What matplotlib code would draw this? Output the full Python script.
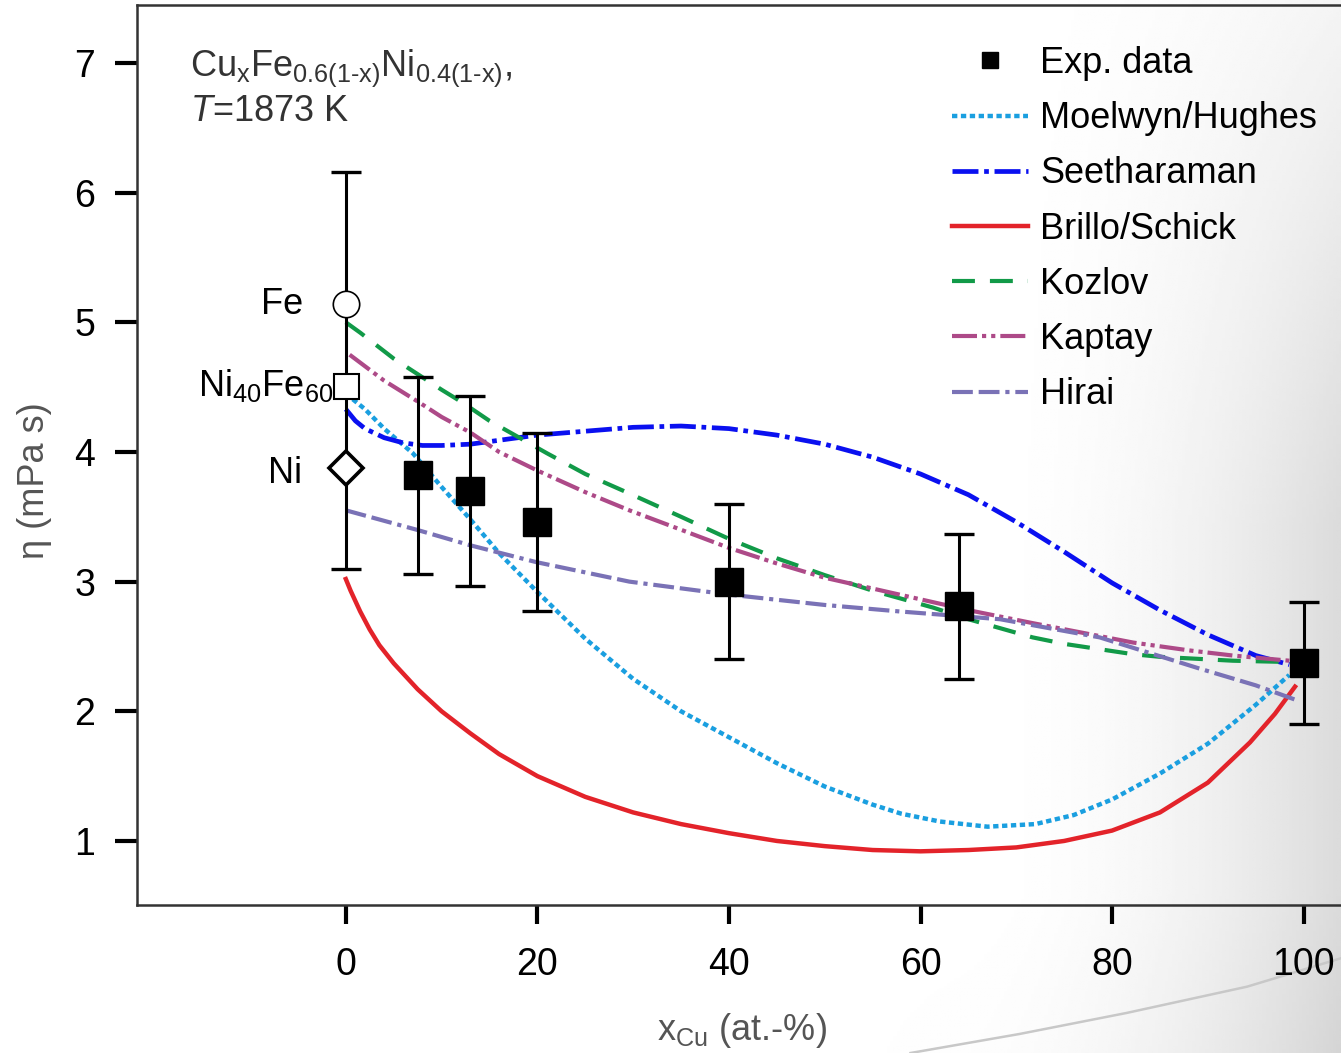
import numpy as np
import matplotlib
matplotlib.use("Agg")
import matplotlib.pyplot as plt
from matplotlib.lines import Line2D

plt.rcParams['font.family'] = ['Liberation Sans', 'DejaVu Sans']
plt.rcParams['mathtext.fontset'] = 'custom'
plt.rcParams['mathtext.rm'] = 'Liberation Sans'
plt.rcParams['mathtext.it'] = 'Liberation Sans:italic'

# experimental data (x_Cu in at.-%, viscosity in mPa s)
exp_x = [7.5, 13, 20, 40, 64, 100]
exp_y = [3.82, 3.70, 3.46, 3.00, 2.81, 2.37]
exp_err = [0.76, 0.73, 0.69, 0.60, 0.56, 0.47]

# pure elements / binary at x_Cu = 0
pure_y = {"Fe": 5.14, "Ni40Fe60": 4.51, "Ni": 3.88}
pure_lo, pure_hi = 3.10, 6.16

# model curves
mh_x = [0, 2, 4, 7, 10, 13, 16, 20, 25, 30, 35, 40, 45, 50, 55, 58, 62, 67, 72, 76, 80, 85, 90, 95, 98.5]
mh_y = [4.45, 4.33, 4.18, 3.99, 3.73, 3.48, 3.22, 2.92, 2.56, 2.25, 2.00, 1.80, 1.60, 1.42, 1.28, 1.21,
        1.15, 1.11, 1.13, 1.20, 1.32, 1.52, 1.75, 2.05, 2.28]

se_x = [0, 1, 2, 4, 6, 8, 10, 13, 16, 20, 25, 30, 35, 40, 45, 50, 55, 60, 65, 70, 75, 80, 85, 90, 95, 98.5]
se_y = [4.33, 4.24, 4.18, 4.11, 4.07, 4.05, 4.05, 4.06, 4.09, 4.13, 4.16, 4.19, 4.20, 4.18, 4.13, 4.06,
        3.96, 3.83, 3.67, 3.46, 3.23, 2.99, 2.78, 2.59, 2.43, 2.36]

bs_x = [0, 0.5, 1, 1.5, 2.5, 3.5, 5, 6, 7.5, 10, 13, 16, 20, 25, 30, 35, 40, 45, 50, 55, 60, 65, 70, 75,
        80, 85, 90, 94.4, 97, 99.1]
bs_y = [3.02, 2.93, 2.85, 2.77, 2.63, 2.51, 2.37, 2.29, 2.17, 2.00, 1.83, 1.67, 1.50, 1.34, 1.22, 1.13,
        1.06, 1.00, 0.96, 0.93, 0.92, 0.93, 0.95, 1.00, 1.08, 1.22, 1.45, 1.76, 1.98, 2.19]

ko_x = [0, 1.5, 5, 10, 12.2, 15, 21, 25, 29.6, 35, 40, 45, 50, 55, 61.3, 65, 71.7, 75, 82.2, 85, 92.6, 98.5]
ko_y = [5.0, 4.92, 4.72, 4.48, 4.38, 4.24, 3.99, 3.83, 3.68, 3.50, 3.33, 3.18, 3.05, 2.93, 2.80, 2.71,
        2.57, 2.52, 2.44, 2.42, 2.39, 2.38]

ka_x = [0.4, 4, 7.7, 10, 13, 16, 19.9, 25, 29.6, 35, 40, 45, 50, 57.8, 65, 71.7, 78, 82.2, 88, 92.6, 98.5]
ka_y = [4.75, 4.55, 4.38, 4.27, 4.15, 4.00, 3.86, 3.69, 3.55, 3.40, 3.26, 3.14, 3.03, 2.90, 2.78, 2.68,
        2.59, 2.53, 2.47, 2.43, 2.39]

hi_x = [0, 7.4, 13, 19.9, 29.6, 40, 50, 57.8, 68.3, 78.7, 89.1, 95, 99.1]
hi_y = [3.55, 3.40, 3.28, 3.15, 3.00, 2.90, 2.82, 2.77, 2.71, 2.57, 2.33, 2.20, 2.09]

x_ticks = [0, 20, 40, 60, 80, 100]
y_ticks = [1, 2, 3, 4, 5, 6, 7]

fig = plt.figure(figsize=(13.41, 10.53), dpi=100)

# soft grey shading on the right side (slide background)
bg = fig.add_axes([0, 0, 1, 1], zorder=-10)
fx, fy = np.meshgrid(np.linspace(0, 1, 400), np.linspace(0, 1, 400))  # fy from top
hx = np.clip((fx - 0.72) / 0.28, 0, 1) ** 2.0
vy = np.clip(0.3 + 1.4 * fy, 0, 1)
d = 0.14 * hx * vy + 0.025 * np.clip((fy - 0.85) / 0.15, 0, 1) * np.clip((fx - 0.6) / 0.4, 0, 1)
bg.imshow(1 - d, cmap='gray', vmin=0, vmax=1, extent=[0, 1, 0, 1], aspect='auto', origin='upper')
bg.plot([0.679, 0.76, 0.84, 0.93, 1.0], [0.0, 0.018, 0.038, 0.063, 0.090], color='#c8c8c8', lw=1.8)
bg.set_xlim(0, 1)
bg.set_ylim(0, 1)
bg.axis('off')

ax = fig.add_axes([137 / 1341, 148 / 1053, 1 - 137 / 1341, 900 / 1053])
ax.patch.set_alpha(0)

ax.plot(mh_x, mh_y, color='#1a9fe0', lw=3.2, linestyle=(0, (1.2, 0.8)), label='Moelwyn/Hughes', zorder=3)
ax.plot(se_x, se_y, color='#0a10f0', lw=3.4, linestyle=(0, (5.5, 1.2, 1.0, 1.2)), label='Seetharaman', zorder=3)
ax.plot(bs_x, bs_y, color='#e3232a', lw=3.2, linestyle='-', label='Brillo/Schick', zorder=3)
ax.plot(ko_x, ko_y, color='#119a48', lw=3.0, linestyle=(0, (5.5, 3.6)), label='Kozlov', zorder=3)
ax.plot(ka_x, ka_y, color='#ad4a88', lw=3.0, linestyle=(0, (6.0, 1.2, 1.0, 1.2, 1.0, 1.2)), label='Kaptay', zorder=3)
ax.plot(hi_x, hi_y, color='#7a72b6', lw=3.0, linestyle=(0, (5.0, 1.4, 5.0, 1.4, 1.0, 1.4)), label='Hirai', zorder=3)

# range at x_Cu = 0
sq = pure_y["Ni40Fe60"]
ax.errorbar([0], [sq], yerr=[[sq - pure_lo], [pure_hi - sq]], fmt='none', ecolor='black',
            elinewidth=2.2, capsize=11, capthick=2.4, zorder=4)
ax.plot([0], [pure_y["Fe"]], 'o', ms=19, mfc='white', mec='black', mew=1.2, zorder=5)
ax.plot([0], [pure_y["Ni40Fe60"]], 's', ms=18, mfc='white', mec='black', mew=1.5, zorder=5)
ax.plot([0], [pure_y["Ni"]], 'D', ms=17, mfc='white', mec='black', mew=2.6, zorder=5)
ax.text(-4.5, pure_y["Fe"], 'Fe', fontsize=26, ha='right', va='center')
ax.text(-1.3, pure_y["Ni40Fe60"], r'Ni$_\mathregular{40}$Fe$_\mathregular{60}$', fontsize=26,
        ha='right', va='center')
ax.text(-4.6, pure_y["Ni"] - 0.05, 'Ni', fontsize=26, ha='right', va='center')

ax.errorbar(exp_x, exp_y, yerr=exp_err, fmt='s', color='black', ms=20, elinewidth=2.2,
            capsize=11, capthick=2.4, zorder=6)

ax.text(0.044, 0.953, r'Cu$_\mathregular{x}$Fe$_\mathregular{0.6(1\text{-}x)}$Ni$_\mathregular{0.4(1\text{-}x)}$,'
        + '\n' + r'$T$=1873 K', transform=ax.transAxes, fontsize=26, color='#333333',
        ha='left', va='top', linespacing=1.2)

handles = [Line2D([], [], marker='s', ls='none', color='black', ms=11)]
handles += ax.get_lines()[:6]
labels = ['Exp. data', 'Moelwyn/Hughes', 'Seetharaman', 'Brillo/Schick', 'Kozlov', 'Kaptay', 'Hirai']
fig.legend(handles, labels, loc='upper left', bbox_to_anchor=(952 / 1341, 1 - 46 / 1053),
           frameon=False, fontsize=26, handlelength=2.1, handletextpad=0.35, labelspacing=0.56,
           borderpad=0, borderaxespad=0)

ax.set_xlim(-21.8, 103.9)
ax.set_ylim(0.506, 7.447)
ax.set_xticks(x_ticks)
ax.set_yticks(y_ticks)
ax.tick_params(axis='both', direction='out', width=3, colors='black', labelsize=27)
ax.tick_params(axis='y', length=16, pad=14)
ax.tick_params(axis='x', length=14, pad=16)
for s in ['left', 'top', 'bottom']:
    ax.spines[s].set_linewidth(1.8)
    ax.spines[s].set_color('#333333')
ax.spines['right'].set_visible(False)

ax.set_xlabel(r'x$_\mathregular{Cu}$ (at.-%)', fontsize=26, color='#555555')
ax.set_ylabel('η (mPa s)', fontsize=26, color='#555555')
ax.xaxis.set_label_coords(0.5025, -0.118)
ax.yaxis.set_label_coords(-0.071, 0.472)

fig.savefig('out.png', dpi=100)
